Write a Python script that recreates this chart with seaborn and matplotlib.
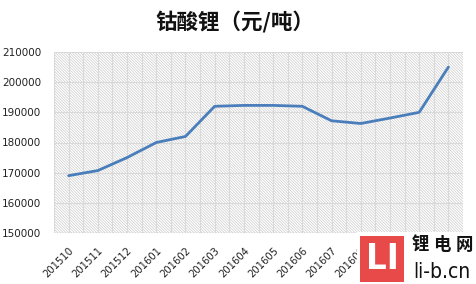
import numpy as np
import pandas as pd
import matplotlib
matplotlib.use("Agg")
import matplotlib.pyplot as plt
from matplotlib.patches import Rectangle
import seaborn as sns

months = ['201510', '201511', '201512', '201601', '201602', '201603', '201604',
          '201605', '201606', '201607', '201608', '201609', '201610', '201611']
prices = [169000, 170700, 175000, 180000, 182000, 192000, 192300,
          192300, 192000, 187200, 186300, 188100, 190000, 205000]
yticks = [150000, 160000, 170000, 180000, 190000, 200000, 210000]
title = '钴酸锂（元/吨）'

sns.set_style("white")
plt.rcParams['font.family'] = ['DejaVu Sans', 'Noto Sans CJK SC']
plt.rcParams['hatch.linewidth'] = 0.5

df = pd.DataFrame({'month': months, 'price': prices})

fig = plt.figure(figsize=(4.76, 2.84), dpi=100)
ax = fig.add_axes([54/476, 1-233/284, (463-54)/476, (233-52)/284])

# hatched background
bg = Rectangle((0, 0), 1, 1, transform=ax.transAxes, facecolor='white',
               edgecolor='#cccccc', hatch='\\' * 12, linewidth=0, zorder=0)
ax.add_patch(bg)

n = len(months)
for xv in np.arange(-0.5, n, 0.5):
    ax.axvline(xv, color='#d9d9d9', lw=0.8, zorder=1)
for yv in yticks[1:]:
    ax.axhline(yv, color='#d9d9d9', lw=0.8, zorder=1)
ax.axhline(yticks[0], color='#c8c8c8', lw=1.0, zorder=1)

sns.lineplot(data=df, x='month', y='price', sort=False, ax=ax,
             color='#4a7ebb', lw=2.0, zorder=3)

ax.set_xlim(-0.5, n - 0.5)
ax.set_ylim(yticks[0], yticks[-1])
ax.set_yticks(yticks)
ax.set_yticklabels([str(v) for v in yticks], fontsize=7.5, color='#222222')
ax.set_xticks(range(n))
ax.set_xticklabels(months, fontsize=7.2, color='#222222', rotation=45,
                   ha='right', rotation_mode='anchor')
ax.tick_params(axis='both', length=0)
ax.tick_params(axis='x', pad=9)
ax.tick_params(axis='y', pad=9)
ax.set_xlabel('')
ax.set_ylabel('')
for s in ax.spines.values():
    s.set_visible(False)

fig.text(235/476, 1-22/284, title, ha='center', va='center', fontsize=15.5,
         fontweight='bold', family=['Noto Sans CJK SC', 'DejaVu Sans'], color='#111111')

# watermark logo (white backing covers the last tick labels)
fig.patches.append(Rectangle((357/476, 0), (476-357)/476, 1-232/284,
                             transform=fig.transFigure, facecolor='white',
                             edgecolor='none', zorder=9))
fig.patches.append(Rectangle((360/476, 1-282/284), 44/476, 46/284,
                             transform=fig.transFigure, facecolor='#e84a4a',
                             edgecolor='none', zorder=10))
fig.text(382/476, 1-259/284, 'LI', ha='center', va='center', fontsize=26,
         fontweight='bold', fontstretch='condensed', family='DejaVu Sans',
         color='white', zorder=11)
for cx, ch in zip([420, 442, 464], ['锂', '电', '网']):
    fig.text(cx/476, 1-245/284, ch, ha='center', va='center', fontsize=12.5,
             fontweight='bold', family=['Noto Sans CJK SC'], color='#111111', zorder=11)
fig.text(442/476, 1-272/284, 'li-b.cn', ha='center', va='center', fontsize=15,
         fontstretch='condensed', family='DejaVu Sans', color='#111111', zorder=11)

fig.savefig('out.png', dpi=100)
